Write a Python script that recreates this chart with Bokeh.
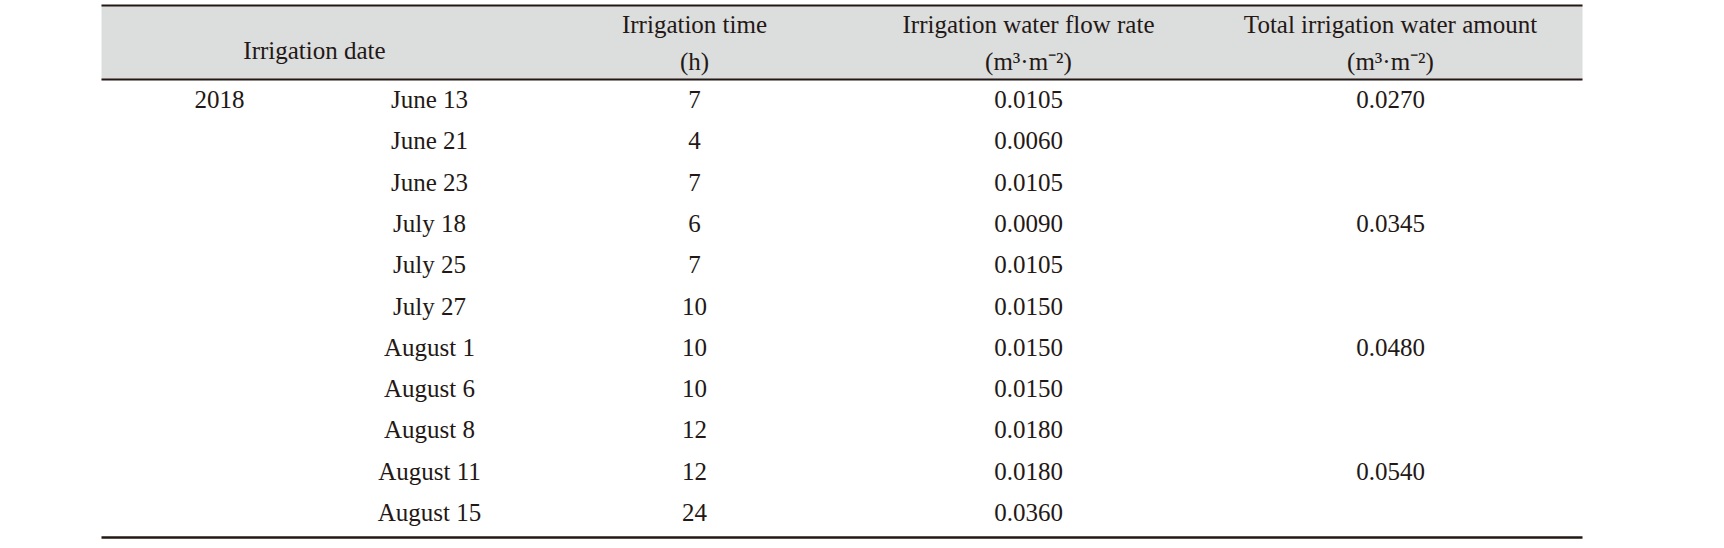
from bokeh.plotting import figure
from bokeh.models import Range1d, ColumnDataSource
from bokeh.core.properties import value
from bokeh.embed import file_html
from bokeh.resources import INLINE

# ---- data ----
year = "2018"
dates = ["June 13", "June 21", "June 23", "July 18", "July 25", "July 27",
         "August 1", "August 6", "August 8", "August 11", "August 15"]
times = [7, 4, 7, 6, 7, 10, 10, 10, 12, 12, 24]
flow_rates = ["0.0105", "0.0060", "0.0105", "0.0090", "0.0105", "0.0150",
              "0.0150", "0.0150", "0.0180", "0.0180", "0.0360"]
totals = ["0.0270", "", "", "0.0345", "", "", "0.0480", "", "", "0.0540", ""]
headers = ["Irrigation date", "Irrigation time", "Irrigation water flow rate",
           "Total irrigation water amount"]
units = ["(h)", "(m³·m⁻²)", "(m³·m⁻²)"]

# ---- layout (pixel coordinates) ----
W, H = 1700, 544
left, right = 101, 1582
col_year, col_date, col_time, col_flow, col_total = 219, 429, 694, 1028, 1390
row0, row_step = 99, 41.3
font = value("Liberation Serif")
fs = "25px"
ink = "#231815"

p = figure(width=W, height=H, output_backend="svg", toolbar_location=None,
           x_range=Range1d(0, W), y_range=Range1d(H, 0),
           min_border=0, outline_line_color=None)
p.axis.visible = False
p.grid.visible = False
p.background_fill_color = "white"
p.border_fill_color = "white"

# header background
p.quad(left=[left], right=[right], top=[5], bottom=[79],
       fill_color="#dcdddd", line_color=None)

# rules
p.segment(x0=[left, left, left], x1=[right, right, right],
          y0=[5, 79, 537], y1=[5, 79, 537],
          line_color=ink, line_width=[2.2, 2.2, 2.5])

def txt(xs, ys, texts):
    src = ColumnDataSource(dict(x=xs, y=ys, t=texts))
    p.text(x="x", y="y", text="t", source=src, text_font=font,
           text_font_size=fs, text_align="center",
           text_baseline="alphabetic", text_color=ink)

# header texts
txt([314, col_time, col_flow, col_total], [50, 24, 24, 24], headers)
txt([col_time, col_flow, col_total], [61, 61, 61], units)

rows_y = [row0 + row_step * i for i in range(len(dates))]
txt([col_year], [rows_y[0]], [year])
txt([col_date] * len(dates), rows_y, dates)
txt([col_time] * len(times), rows_y, [str(t) for t in times])
txt([col_flow] * len(flow_rates), rows_y, flow_rates)
tot_y = [y for y, t in zip(rows_y, totals) if t]
tot_t = [t for t in totals if t]
txt([col_total] * len(tot_t), tot_y, tot_t)

open("out.html", "w").write(file_html(p, INLINE))
